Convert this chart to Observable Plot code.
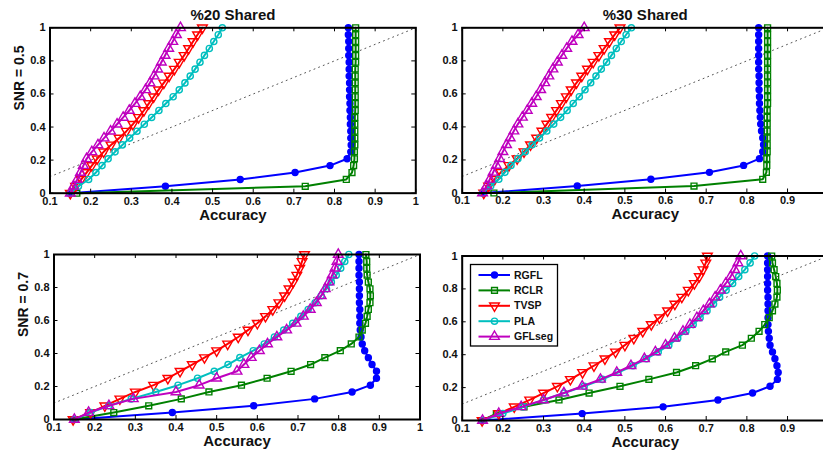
<!DOCTYPE html>
<html><head><meta charset="utf-8">
<script src="https://cdn.jsdelivr.net/npm/d3@7"></script>
<script src="https://cdn.jsdelivr.net/npm/@observablehq/plot@0.6"></script>
<style>
html,body{margin:0;padding:0;background:#fff;overflow:hidden;}
#wrap{position:relative;width:823px;height:457px;overflow:hidden;background:#fff;}
#wrap svg{position:absolute;left:0;top:0;}
</style></head><body><div id="wrap"></div>
<script>
// ---------- data ----------
const methods = ["RGFL", "RCLR", "TVSP", "PLA", "GFLseg"];
const yLevels = [0, 0.042, 0.083, 0.125, 0.167, 0.208, 0.25, 0.292, 0.333, 0.375, 0.417, 0.458, 0.5,
                 0.542, 0.583, 0.625, 0.667, 0.708, 0.75, 0.792, 0.833, 0.875, 0.917, 0.958, 1];
const xTicks = [0.1, 0.2, 0.3, 0.4, 0.5, 0.6, 0.7, 0.8, 0.9, 1];
const yTicks = [0, 0.2, 0.4, 0.6, 0.8, 1];
const chanceLine = [0.1, 1];
const panelTitles = ["%20 Shared", "%30 Shared", "", ""];
const rowLabels = ["SNR = 0.5", "", "SNR = 0.7", ""];
const xLabel = "Accuracy";

// %20 Shared, SNR = 0.5
const s20n05_RGFL  = [0.149,0.384,0.568,0.703,0.789,0.831,0.840,0.841,0.840,0.840,0.839,0.839,0.838,0.838,0.837,0.837,0.837,0.836,0.836,0.836,0.835,0.835,0.835,0.834,0.834];
const s20n05_RCLR  = [0.166,0.728,0.829,0.843,0.847,0.849,0.849,0.850,0.850,0.850,0.850,0.850,0.851,0.851,0.851,0.851,0.851,0.851,0.851,0.852,0.852,0.852,0.852,0.852,0.852];
const s20n05_TVSP  = [0.150,0.163,0.177,0.190,0.203,0.216,0.232,0.250,0.270,0.288,0.304,0.318,0.331,0.343,0.355,0.367,0.380,0.393,0.406,0.418,0.430,0.441,0.452,0.463,0.475];
const s20n05_PLA   = [0.150,0.170,0.195,0.213,0.228,0.243,0.260,0.278,0.296,0.314,0.332,0.350,0.368,0.385,0.403,0.418,0.432,0.445,0.457,0.469,0.480,0.492,0.503,0.514,0.524];
const s20n05_GFLseg= [0.150,0.158,0.167,0.175,0.182,0.190,0.203,0.218,0.233,0.249,0.265,0.280,0.295,0.309,0.322,0.335,0.346,0.356,0.365,0.374,0.383,0.392,0.402,0.411,0.421];

// %30 Shared, SNR = 0.5
const s30n05_RGFL  = [0.153,0.383,0.564,0.708,0.792,0.831,0.839,0.841,0.839,0.836,0.834,0.833,0.832,0.831,0.831,0.830,0.830,0.830,0.829,0.829,0.829,0.829,0.829,0.829,0.829];
const s30n05_RCLR  = [0.178,0.670,0.839,0.848,0.849,0.849,0.850,0.850,0.850,0.850,0.850,0.850,0.850,0.851,0.851,0.851,0.851,0.851,0.851,0.851,0.851,0.851,0.851,0.851,0.851];
const s30n05_TVSP  = [0.153,0.165,0.180,0.195,0.215,0.235,0.252,0.268,0.283,0.296,0.308,0.320,0.332,0.344,0.356,0.368,0.381,0.394,0.408,0.422,0.436,0.449,0.462,0.475,0.488];
const s30n05_PLA   = [0.150,0.170,0.190,0.205,0.220,0.237,0.255,0.272,0.290,0.308,0.325,0.342,0.358,0.373,0.388,0.402,0.416,0.429,0.442,0.455,0.467,0.479,0.491,0.503,0.516];
const s30n05_GFLseg= [0.150,0.160,0.168,0.176,0.184,0.192,0.200,0.209,0.218,0.227,0.237,0.248,0.260,0.271,0.282,0.293,0.303,0.313,0.323,0.334,0.345,0.357,0.370,0.385,0.400];

// %20 Shared, SNR = 0.7
const s20n07_RGFL  = [0.149,0.391,0.591,0.741,0.833,0.878,0.893,0.893,0.882,0.873,0.864,0.858,0.855,0.853,0.852,0.852,0.852,0.851,0.851,0.851,0.851,0.850,0.850,0.850,0.850];
const s20n07_RCLR  = [0.149,0.247,0.333,0.413,0.481,0.561,0.624,0.683,0.731,0.766,0.804,0.831,0.850,0.858,0.866,0.870,0.873,0.877,0.878,0.877,0.873,0.870,0.869,0.869,0.867];
const s20n07_TVSP  = [0.147,0.190,0.225,0.262,0.300,0.345,0.380,0.410,0.440,0.470,0.500,0.527,0.553,0.577,0.600,0.620,0.638,0.653,0.667,0.678,0.688,0.697,0.704,0.710,0.716];
const s20n07_PLA   = [0.150,0.190,0.235,0.290,0.350,0.405,0.453,0.494,0.528,0.557,0.590,0.617,0.642,0.665,0.687,0.707,0.725,0.742,0.757,0.770,0.782,0.794,0.805,0.815,0.825];
const s20n07_GFLseg= [0.150,0.185,0.235,0.295,0.400,0.457,0.500,0.550,0.567,0.585,0.605,0.625,0.648,0.672,0.695,0.713,0.730,0.745,0.757,0.767,0.776,0.784,0.791,0.796,0.799];

// %30 Shared, SNR = 0.7
const s30n07_RGFL  = [0.149,0.395,0.594,0.729,0.814,0.857,0.875,0.877,0.874,0.869,0.863,0.857,0.855,0.853,0.852,0.852,0.852,0.852,0.852,0.851,0.851,0.851,0.851,0.851,0.851];
const s30n07_RCLR  = [0.149,0.184,0.252,0.338,0.412,0.488,0.559,0.627,0.674,0.715,0.748,0.789,0.811,0.830,0.844,0.855,0.863,0.869,0.874,0.875,0.874,0.871,0.867,0.863,0.861];
const s30n07_TVSP  = [0.149,0.190,0.228,0.266,0.300,0.334,0.366,0.396,0.424,0.451,0.477,0.500,0.522,0.544,0.565,0.585,0.605,0.623,0.640,0.656,0.671,0.683,0.692,0.699,0.703];
const s30n07_PLA   = [0.150,0.200,0.250,0.300,0.350,0.400,0.445,0.483,0.520,0.553,0.582,0.608,0.630,0.650,0.668,0.685,0.702,0.718,0.733,0.749,0.765,0.780,0.795,0.808,0.819];
const s30n07_GFLseg= [0.150,0.190,0.245,0.300,0.350,0.395,0.440,0.480,0.515,0.548,0.575,0.600,0.622,0.643,0.660,0.677,0.693,0.708,0.722,0.735,0.748,0.760,0.770,0.778,0.785];

// ---------- styling ----------
const colors  = ["#0000ff", "#008000", "#ff0000", "#00bfbf", "#bf00bf"];
const symbols = ["circle", "square", "triangle", "circle", "triangle"];
const rotates = [0, 0, 180, 0, 0];
const fills   = ["#0000ff", "none", "none", "none", "none"];
const radii   = [3, 3.3, 3.6, 3.1, 3.6];
const FONT = "'Liberation Sans', Arial, Helvetica, sans-serif";

// frame boxes [left, top, right, bottom] in page pixels
const layouts = [
  {L: 49.5, T: 27.3, R: 415.3, B: 192.7, W: 823},
  {L: 461.7, T: 27.3, R: 827.7, B: 192.5, W: 840},
  {L: 53.5, T: 254, R: 419.5, B: 419, W: 823},
  {L: 461.7, T: 255.5, R: 827.7, B: 420, W: 840}
];
const panelSeries = [
  [s20n05_RGFL, s20n05_RCLR, s20n05_TVSP, s20n05_PLA, s20n05_GFLseg],
  [s30n05_RGFL, s30n05_RCLR, s30n05_TVSP, s30n05_PLA, s30n05_GFLseg],
  [s20n07_RGFL, s20n07_RCLR, s20n07_TVSP, s20n07_PLA, s20n07_GFLseg],
  [s30n07_RGFL, s30n07_RCLR, s30n07_TVSP, s30n07_PLA, s30n07_GFLseg]
];
const fmt = d => String(+d.toFixed(1));
const PAGE_W = 823;

function panel(p) {
  const {L, T, R, B, W} = layouts[p];
  const H = 457, iw = R - L, ih = B - T, tk = 4;
  // tick labels that fall inside the visible page
  const xs = d3.scaleLinear([0.1, 1], [L, R]);
  const xLabelTicks = xTicks.filter(t => xs(t) + 4 < PAGE_W);
  const marks = [
    Plot.line(chanceLine, {x: d => d, y: d => d, stroke: "#555", strokeWidth: 1, strokeDasharray: "1,4"})
  ];
  methods.forEach((m, i) => {
    const data = panelSeries[p][i].map((x, k) => ({method: m, x, y: yLevels[k]}));
    marks.push(Plot.line(data, {x: "x", y: "y", stroke: colors[i], strokeWidth: 2}));
    marks.push(Plot.dot(data, {x: "x", y: "y", symbol: () => symbols[i], r: radii[i], rotate: rotates[i],
      stroke: colors[i], fill: fills[i], strokeWidth: 1.4}));
  });
  marks.push(
    Plot.tickX(xTicks, {x: d => d, insetTop: ih - tk, stroke: "black", strokeWidth: 1}),
    Plot.tickX(xTicks, {x: d => d, insetBottom: ih - tk, stroke: "black", strokeWidth: 1}),
    Plot.tickY(yTicks, {y: d => d, insetRight: iw - tk, stroke: "black", strokeWidth: 1}),
    Plot.tickY(yTicks, {y: d => d, insetLeft: iw - tk, stroke: "black", strokeWidth: 1}),
    Plot.frame({stroke: "black", strokeWidth: 2}),
    Plot.axisX(xLabelTicks, {tickSize: 0, tickPadding: 3.5, tickFormat: fmt, label: null, fontSize: 11, fontWeight: "bold", fill: "#111"}),
    Plot.axisY(yTicks, {tickSize: 0, tickPadding: 4.5, tickFormat: fmt, label: null, fontSize: 11, fontWeight: "bold", fill: "#111"}),
    Plot.text([xLabel], {text: d => d, frameAnchor: "bottom", dy: 21.5, lineAnchor: "middle", fontSize: 15, fontWeight: "bold", fill: "#111"})
  );
  if (panelTitles[p]) marks.push(Plot.text([panelTitles[p]], {text: d => d, frameAnchor: "top", dy: -13, lineAnchor: "middle", fontSize: 15, fontWeight: "bold", fill: "#111"}));
  if (rowLabels[p]) marks.push(Plot.text([rowLabels[p]], {text: d => d, frameAnchor: "left", dx: -30, rotate: -90, lineAnchor: "middle", fontSize: 14, fontWeight: "bold", fill: "#111"}));
  return Plot.plot({
    width: W, height: H, marginLeft: L, marginTop: T, marginRight: W - R, marginBottom: H - B,
    x: {domain: [0.1, 1]}, y: {domain: [0, 1]},
    style: {fontFamily: FONT, background: "transparent", maxWidth: "none", overflow: "visible"},
    marks
  });
}

const wrap = document.getElementById("wrap");
[0, 1, 2, 3].forEach(p => {
  const svg = panel(p);
  svg.style.position = "absolute"; svg.style.left = "0px"; svg.style.top = "0px";
  wrap.appendChild(svg);
});

// ---------- legend (bottom-right panel) ----------
const leg = d3.create("svg").attr("width", 823).attr("height", 457)
  .style("position", "absolute").style("left", "0px").style("top", "0px").style("font-family", FONT);
const box = {x: 470.5, y: 264.5, w: 87, h: 81.5};
leg.append("rect").attr("x", box.x).attr("y", box.y).attr("width", box.w).attr("height", box.h)
  .attr("fill", "white").attr("stroke", "black").attr("stroke-width", 1.3);
const d3sym = {circle: d3.symbolCircle, square: d3.symbolSquare, triangle: d3.symbolTriangle};
methods.forEach((m, i) => {
  const cy = box.y + 10.5 + i * 15.4;
  const g = leg.append("g");
  g.append("line").attr("x1", box.x + 8).attr("x2", box.x + 39.5).attr("y1", cy).attr("y2", cy)
    .attr("stroke", colors[i]).attr("stroke-width", 2);
  g.append("path").attr("d", d3.symbol(d3sym[symbols[i]], Math.PI * radii[i] * radii[i])())
    .attr("transform", `translate(${box.x + 24},${cy}) rotate(${rotates[i]})`)
    .attr("fill", fills[i]).attr("stroke", colors[i]).attr("stroke-width", 1.4);
  g.append("text").attr("x", box.x + 43.5).attr("y", cy).attr("dy", "0.35em")
    .attr("font-size", 10.5).attr("font-weight", "bold").attr("fill", "#111").text(m);
});
wrap.appendChild(leg.node());
</script></body></html>
